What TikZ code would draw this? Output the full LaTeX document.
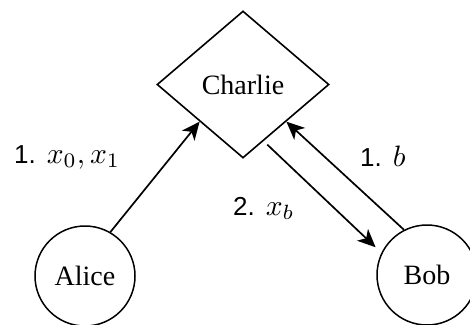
\documentclass[tikz,border=0pt]{standalone}
\usepackage{graphicx}
\usepackage{fontspec}
\setmainfont{Liberation Serif}
\setsansfont{Liberation Sans}
\usetikzlibrary{shapes.geometric,arrows.meta}
\newcommand{\stepno}[1]{{\sffamily\fontsize{26}{28}\selectfont #1}\hspace{11pt}}
\newcommand{\bigmath}[1]{\scalebox{2.95}{\fontsize{10}{12}\selectfont$#1$}}
\begin{document}
\begin{tikzpicture}[x=1pt,y=-1pt,
  every node/.style={font=\fontsize{28}{30}\selectfont},
  party/.style={circle,draw,line width=1.5pt,minimum size=100pt,inner sep=0pt},
  hub/.style={diamond,draw,line width=1.6pt,minimum width=172pt,minimum height=147pt,inner sep=0pt},
  msg/.style={line width=1.7pt,-{Stealth[length=18pt,width=16pt,inset=5pt]}},
  lbl/.style={anchor=base west,inner sep=0pt}]
\useasboundingbox (0,0) rectangle (470,324);
\node[hub] (charlie) at (243,84.5) {Charlie};
\node[party] (alice) at (85,276) {Alice};
\node[party] (bob) at (427,275) {Bob};
\draw[msg] (alice.60) -- (charlie.south west);
\draw[msg] (bob.117) -- (charlie.south east);
\draw[msg, shorten <=5pt, shorten >=8pt] (charlie.-70) -- (bob.154.5);
\node[lbl] (l1) at (14,163) {\stepno{1.}\bigmath{x_0, x_1}};
\node[lbl] (l2) at (233,215) {\stepno{2.}\bigmath{x_b}};
\node[lbl] (l3) at (360,166) {\stepno{1.}\bigmath{b}};
\end{tikzpicture}
\end{document}
